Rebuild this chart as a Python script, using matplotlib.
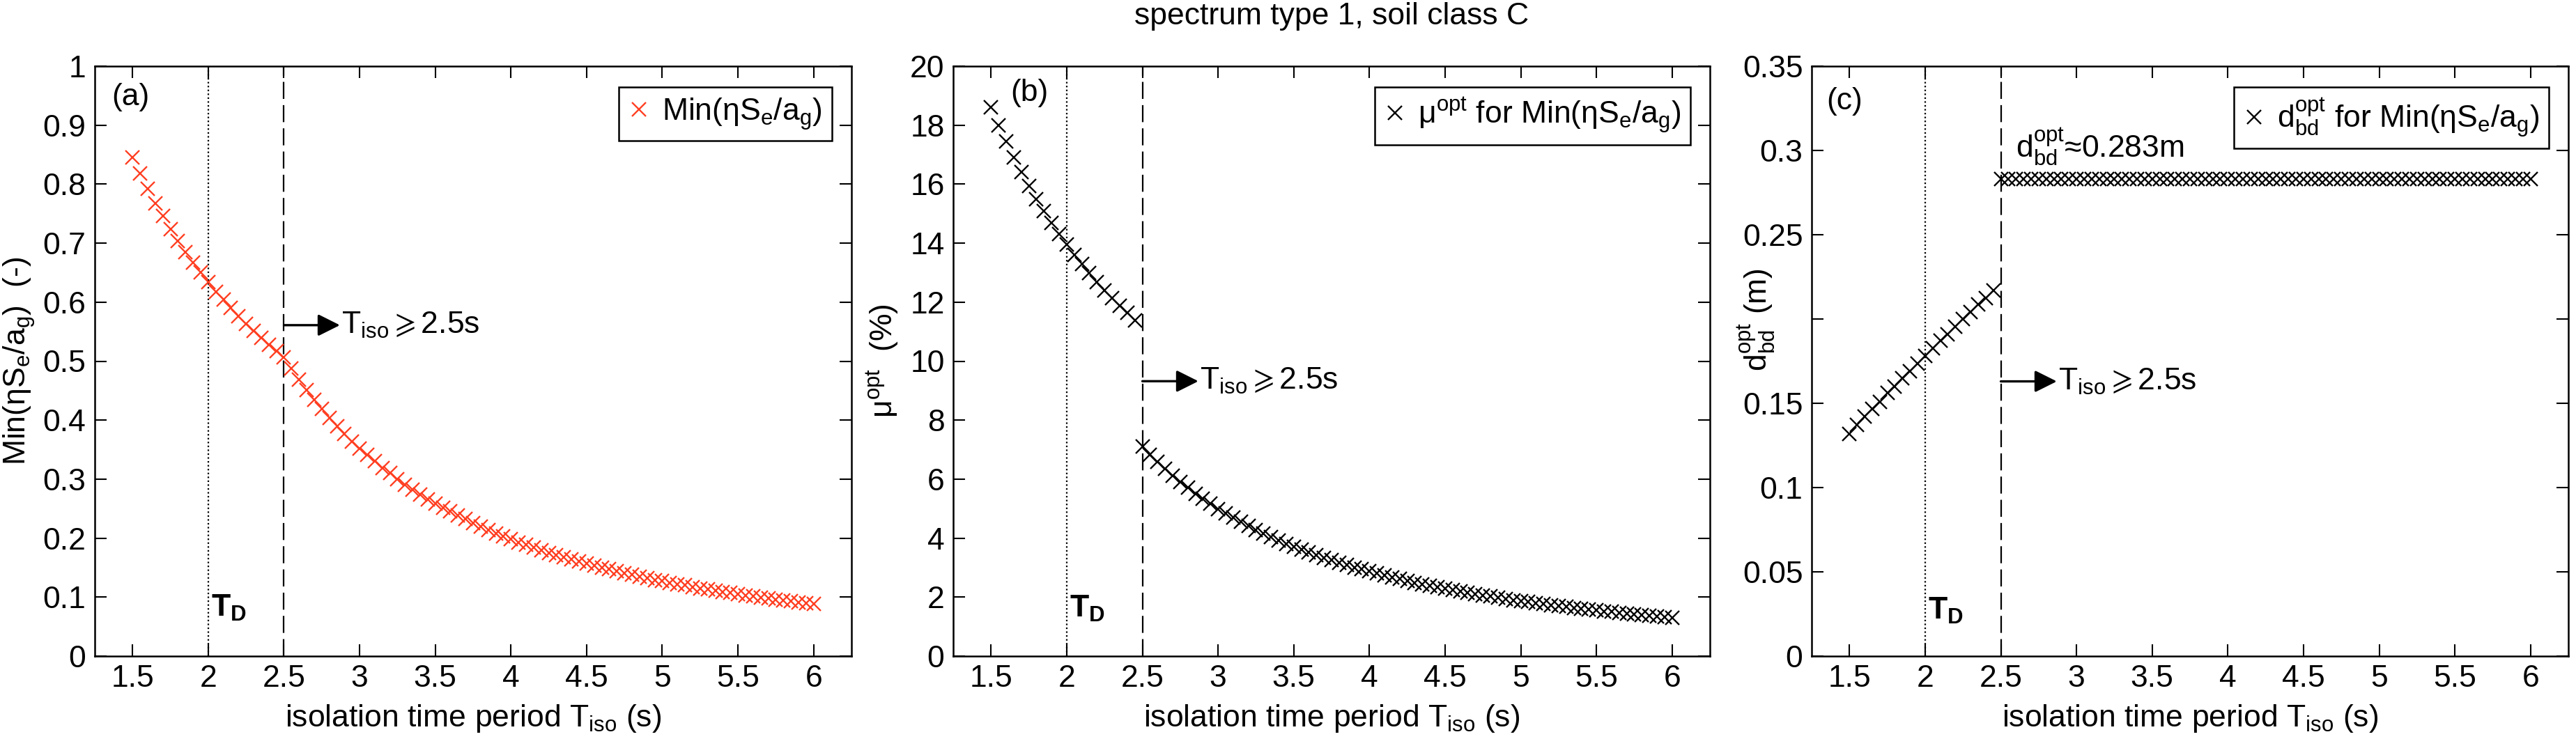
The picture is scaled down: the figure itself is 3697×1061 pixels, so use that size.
import numpy as np
import matplotlib
matplotlib.use("Agg")
import matplotlib.pyplot as plt

plt.rcParams['font.family'] = ['Liberation Sans', 'DejaVu Sans']
plt.rcParams['mathtext.fontset'] = 'custom'
plt.rcParams['mathtext.rm'] = 'Liberation Sans'
plt.rcParams['mathtext.it'] = 'Liberation Sans'
plt.rcParams['mathtext.bf'] = 'Liberation Sans:bold'
plt.rcParams['mathtext.default'] = 'regular'
plt.rcParams['mathtext.fallback'] = 'stixsans'
plt.rcParams['font.size'] = 32

# isolation periods: below 2.5 s and from 2.5 s on (step 0.05 s)
T_low = np.linspace(1.5, 2.45, 20)
T_high = np.linspace(2.5, 6.0, 71)

# (a) Min(eta*Se/ag)
se_low = [0.845, 0.818, 0.792, 0.768, 0.746, 0.724, 0.704, 0.685, 0.667, 0.650,
          0.634, 0.618, 0.604, 0.590, 0.576, 0.563, 0.551, 0.539, 0.528, 0.517]
se_high = [0.507, 0.488, 0.469, 0.451, 0.435, 0.419, 0.404, 0.390, 0.377, 0.364,
           0.352, 0.341, 0.330, 0.319, 0.310, 0.300, 0.291, 0.282, 0.274, 0.266,
           0.259, 0.252, 0.245, 0.238, 0.232, 0.225, 0.220, 0.214, 0.208, 0.203,
           0.198, 0.193, 0.189, 0.184, 0.180, 0.175, 0.171, 0.168, 0.164, 0.160,
           0.157, 0.153, 0.150, 0.147, 0.144, 0.141, 0.138, 0.135, 0.132, 0.129,
           0.127, 0.124, 0.122, 0.120, 0.117, 0.115, 0.113, 0.111, 0.109, 0.107,
           0.105, 0.103, 0.101, 0.099, 0.098, 0.096, 0.094, 0.093, 0.091, 0.090,
           0.088]

# (b) optimum friction coefficient mu (%)
mu_low = [18.60, 18.00, 17.44, 16.91, 16.41, 15.94, 15.50, 15.08, 14.68, 14.31,
          13.95, 13.61, 13.29, 12.98, 12.68, 12.40, 12.13, 11.87, 11.63, 11.39]
mu_high = [7.10, 6.83, 6.58, 6.35, 6.12, 5.91, 5.71, 5.51, 5.33, 5.16,
           4.99, 4.84, 4.69, 4.55, 4.41, 4.28, 4.16, 4.04, 3.92, 3.81,
           3.71, 3.61, 3.51, 3.42, 3.33, 3.25, 3.16, 3.09, 3.01, 2.94,
           2.87, 2.80, 2.73, 2.67, 2.61, 2.55, 2.49, 2.44, 2.39, 2.33,
           2.28, 2.24, 2.19, 2.14, 2.10, 2.06, 2.02, 1.98, 1.94, 1.90,
           1.86, 1.83, 1.79, 1.76, 1.73, 1.70, 1.67, 1.64, 1.61, 1.58,
           1.55, 1.52, 1.50, 1.47, 1.45, 1.42, 1.40, 1.38, 1.35, 1.33,
           1.31]

# (c) optimum bidirectional displacement d_bd (m)
d_low = [0.132, 0.137, 0.142, 0.1465, 0.151, 0.156, 0.160, 0.165, 0.169, 0.1735,
         0.178, 0.1825, 0.187, 0.191, 0.1955, 0.200, 0.204, 0.2085, 0.2125, 0.217]
d_high = [0.283] * 71

x_ticks = [1.5, 2, 2.5, 3, 3.5, 4, 4.5, 5, 5.5, 6]
x_ticklabels = ['1.5', '2', '2.5', '3', '3.5', '4', '4.5', '5', '5.5', '6']

RED = '#ff3f22'
T_D = 2.0
T_LIM = 2.5

fig = plt.figure(figsize=(36.98, 10.61), dpi=100)
W = 1086 / 3698
H = 847 / 1061
B = 119 / 1061
ax_a = fig.add_axes([136 / 3698, B, W, H])
ax_b = fig.add_axes([1368 / 3698, B, W, H])
ax_c = fig.add_axes([2600 / 3698, B, W, H])


def style_axes(ax):
    ax.set_xlim(1.25, 6.25)
    ax.set_xticks(x_ticks)
    ax.set_xticklabels(x_ticklabels)
    ax.tick_params(direction='in', length=12, width=1.5, top=True, right=True,
                   pad=9, labelsize=32)
    for s in ax.spines.values():
        s.set_linewidth(1.8)
    ax.axvline(T_D, color='k', lw=1.6, ls=(0, (1, 1.5)), zorder=1)
    ax.axvline(T_LIM, color='k', lw=1.6, ls=(0, (11, 4)), zorder=1)
    ax.set_xlabel('isolation time period T$_{iso}$ (s)', labelpad=10)


def arrow_note(ax, y):
    ax.annotate('', xy=(2.87, y), xytext=(2.5, y),
                arrowprops=dict(arrowstyle='-|>', color='k', lw=2.4,
                                mutation_scale=48, shrinkA=0, shrinkB=0))
    ax.text(2.88, y, r'T$_{iso}\geqslant$2.5s', va='center', ha='left', fontsize=32)


def legend_box(ax):
    leg = ax.legend(loc='upper right', bbox_to_anchor=(0.974, 0.965),
                    borderaxespad=0, fancybox=False, framealpha=1,
                    edgecolor='k', handlelength=0.7, handletextpad=0.4,
                    borderpad=0.3, fontsize=32)
    leg.get_frame().set_linewidth(1.8)


mk = dict(ls='none', marker='x', markersize=15, markeredgewidth=1.7)

# (a)
style_axes(ax_a)
ax_a.plot(T_low, se_low, color=RED, label='Min(ηS$_e$/a$_g$)', **mk)
ax_a.plot(T_high, se_high, color=RED, **mk)
ax_a.set_ylim(0, 1)
ax_a.set_yticks(np.arange(0, 1.01, 0.1))
ax_a.set_yticklabels(['0', '0.1', '0.2', '0.3', '0.4', '0.5', '0.6', '0.7', '0.8', '0.9', '1'])
ax_a.set_ylabel('Min(ηS$_e$/a$_g$)  (-)', labelpad=6)
ax_a.text(1.36, 0.948, '(a)', va='center')
ax_a.text(2.02, 0.057, r'$\mathbf{T_D}$', va='bottom')
arrow_note(ax_a, 0.561)
legend_box(ax_a)

# (b)
style_axes(ax_b)
ax_b.plot(T_low, mu_low, color='k', label='μ$^{opt}$ for Min(ηS$_e$/a$_g$)', **mk)
ax_b.plot(T_high, mu_high, color='k', **mk)
ax_b.set_ylim(0, 20)
ax_b.set_yticks(np.arange(0, 21, 2))
ax_b.set_ylabel('μ$^{opt}$  (%)', labelpad=10)
ax_b.text(1.63, 19.1, '(b)', va='center')
ax_b.text(2.02, 1.11, r'$\mathbf{T_D}$', va='bottom')
arrow_note(ax_b, 9.32)
legend_box(ax_b)
ax_b.set_title('spectrum type 1, soil class C', fontsize=32, pad=43)

# (c)
style_axes(ax_c)
ax_c.plot(T_low, d_low, color='k', label='d$_{bd}^{opt}$ for Min(ηS$_e$/a$_g$)', **mk)
ax_c.plot(T_high, d_high, color='k', **mk)
ax_c.set_ylim(0, 0.35)
ax_c.set_yticks([0, 0.05, 0.1, 0.15, 0.2, 0.25, 0.3, 0.35])
ax_c.set_yticklabels(['0', '0.05', '0.1', '0.15', '', '0.25', '0.3', '0.35'])
ax_c.set_ylabel('d$_{bd}^{opt}$ (m)')
ax_c.yaxis.set_label_coords(-0.046, 0.57)
ax_c.text(1.35, 0.329, '(c)', va='center')
ax_c.text(2.02, 0.018, r'$\mathbf{T_D}$', va='bottom')
ax_c.text(2.6, 0.296, 'd$_{bd}^{opt}$≈0.283m', va='baseline')
arrow_note(ax_c, 0.163)
legend_box(ax_c)

fig.savefig('out.png', dpi=100)
